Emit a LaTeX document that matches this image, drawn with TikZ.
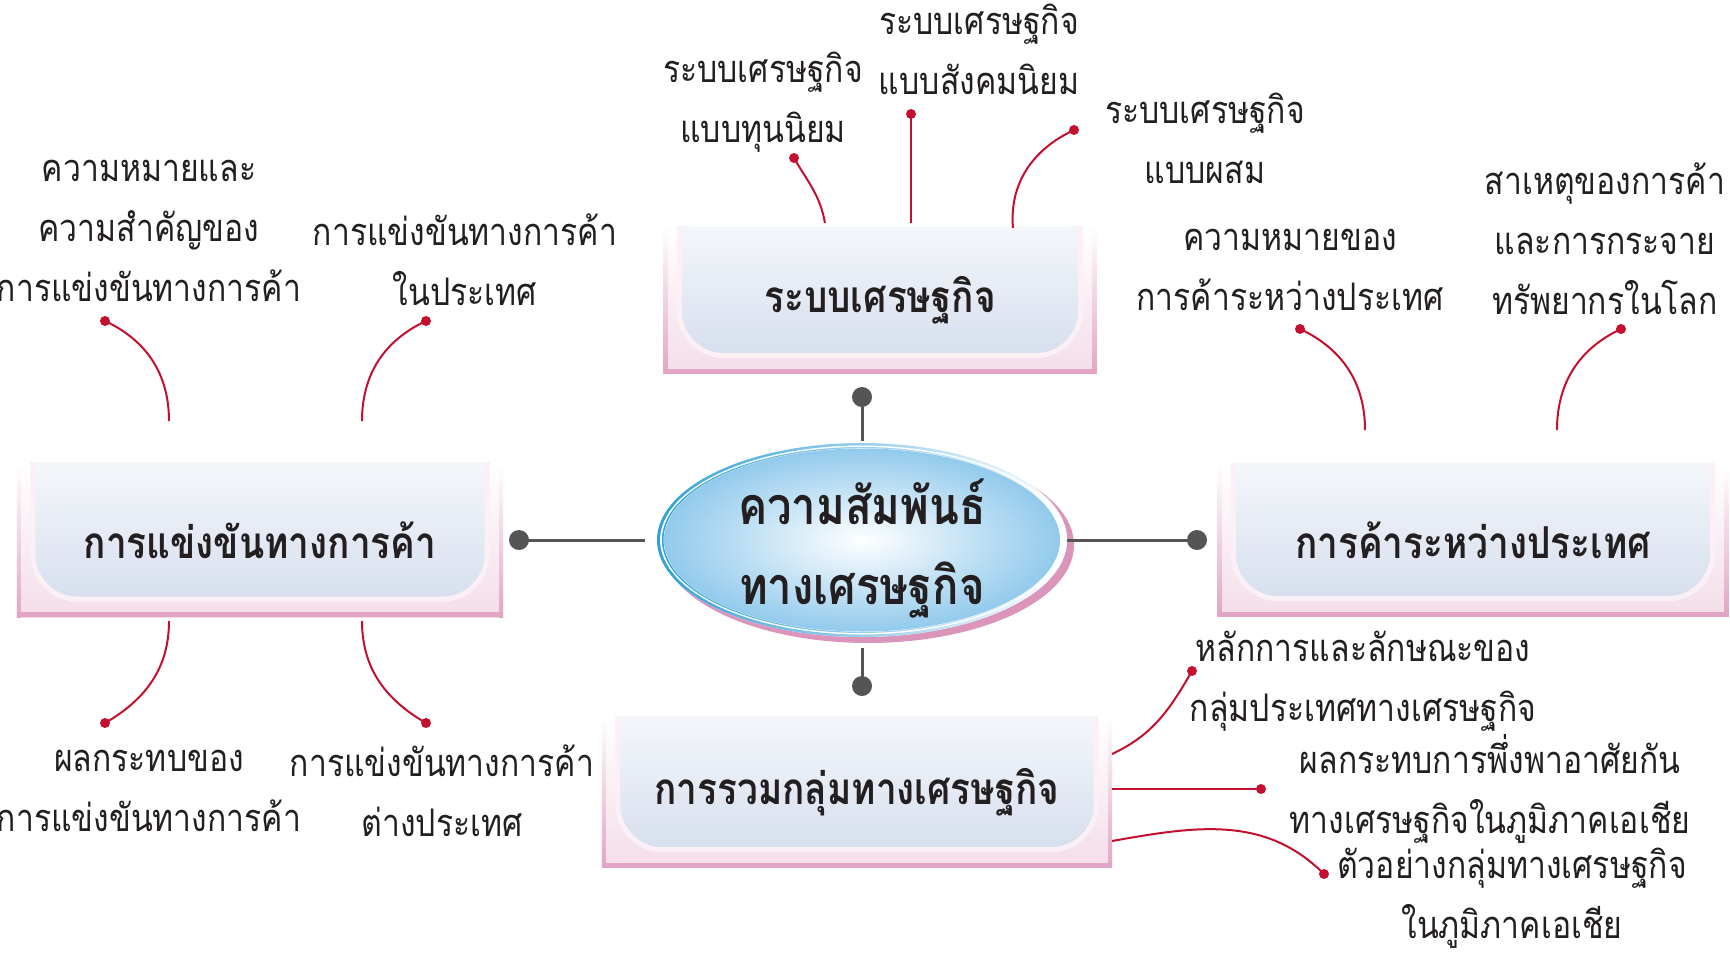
\documentclass[tikz,border=0pt]{standalone}
\usepackage{fontspec}
\newfontfamily\thaifont[Script=Thai, FakeStretch=0.84]{Loma}
\usetikzlibrary{shapes.geometric,backgrounds}

\definecolor{pinkd}{HTML}{E2A5C5}
\definecolor{pinkl}{HTML}{F4DDE9}
\definecolor{boxb}{HTML}{D7DFEE}
\definecolor{boxw}{HTML}{FBF0F5}
\definecolor{redc}{HTML}{C4102E}
\definecolor{greyc}{HTML}{555555}
\definecolor{bluee}{HTML}{33A0DA}
\definecolor{bluef}{HTML}{92CAEC}
\definecolor{pinke}{HTML}{DB95BA}
\definecolor{inkc}{HTML}{231F20}

\tikzset{
  topic/.style={font=\thaifont\bfseries\fontsize{44}{80}\selectfont, text=inkc, inner sep=0pt, align=center},
  leaf/.style={font=\thaifont\fontsize{38}{60}\selectfont, text=inkc, inner sep=0pt, align=center},
  link/.style={draw=redc, line width=2pt},
  hub/.style={draw=greyc, line width=3pt}
}

\begin{document}
\begin{tikzpicture}[x=1pt,y=-1pt]
    \useasboundingbox (0,0) rectangle (1730,953);

    \node[topic, ellipse, font=\thaifont\bfseries\fontsize{52}{80}\selectfont, minimum width=410pt, minimum height=194pt] (ctr) at (862,549) {ความสัมพันธ์\\ทางเศรษฐกิจ};
    \node[topic, minimum width=433pt, minimum height=147pt] (sys) at (880,300) {ระบบเศรษฐกิจ};
    \node[topic, minimum width=486pt, minimum height=154pt] (comp) at (260,540) {การแข่งขันทางการค้า};
    \node[topic, minimum width=511pt, minimum height=153pt] (trade) at (1473,540) {การค้าระหว่างประเทศ};
    \node[topic, minimum width=510pt, minimum height=151pt] (grp) at (857,792) {การรวมกลุ่มทางเศรษฐกิจ};

    \begin{scope}[on background layer]
        \foreach \b in {sys,comp,trade,grp} {
            \shade[top color=white, middle color=white, bottom color=pinkl] (\b.south west) rectangle (\b.north east);
            \shade[top color=white, bottom color=pinkd] (\b.south west) rectangle ([xshift=4pt]\b.north west);
            \shade[top color=white, bottom color=pinkd] ([xshift=-4pt]\b.south east) rectangle (\b.north east);
            \fill[pinkd] (\b.south west) rectangle ([yshift=5pt]\b.south east);
            \begin{scope}
                \clip (\b.south west) rectangle (\b.north east);
                \shadedraw[top color=white, bottom color=boxb, draw=boxw, line width=5pt, rounded corners=45pt]
                    ([shift={(16pt,18pt)}]\b.south west) rectangle ([shift={(-16pt,50pt)}]\b.north east);
            \end{scope}
        }
        \fill[pinke] ([shift={(6pt,4pt)}]ctr.center) ellipse (206pt and 98pt);
        \fill[white] ([yshift=9pt]ctr.center) ellipse (205pt and 97pt);
        \shade[left color=bluee, right color=white, even odd rule]
            ([yshift=9pt]ctr.center) ellipse (205pt and 97pt) ([yshift=9pt]ctr.center) ellipse (202pt and 94.5pt);
        \shade[left color=bluee, right color=white, even odd rule]
            ([yshift=9pt]ctr.center) ellipse (200pt and 93pt) ([yshift=9pt]ctr.center) ellipse (198.5pt and 91.8pt);
        \shade[inner color=white, outer color=bluef] ([yshift=9pt]ctr.center) ellipse (198pt and 91.5pt);
    \end{scope}

    \coordinate (gt) at (862,397);
    \coordinate (gb) at (862,686);
    \coordinate (gl) at (519,540);
    \coordinate (gr) at (1197,540);
    \draw[hub, shorten <=9pt] (ctr.north) -- (gt);
    \draw[hub] (ctr.south) -- (gb);
    \draw[hub] ([xshift=-12pt]ctr.west |- gl) -- (gl);
    \draw[hub] (ctr.east |- gr) -- (gr);
    \foreach \g in {gt,gb,gl,gr} \fill[greyc] (\g) circle (10pt);

    \node[leaf] (s1) at (763,102) {ระบบเศรษฐกิจ\\แบบทุนนิยม};
    \node[leaf] (s2) at (979,49) {ระบบเศรษฐกิจ\\แบบสังคมนิยม};
    \node[leaf] (s3) at (1205,138) {ระบบเศรษฐกิจ\\แบบผสม};
    \node[leaf] (c1) at (149,231) {ความหมายและ\\ความสำคัญของ\\การแข่งขันทางการค้า};
    \node[leaf] (c2) at (465,260) {การแข่งขันทางการค้า\\ในประเทศ};
    \node[leaf] (c3) at (149,791) {ผลกระทบของ\\การแข่งขันทางการค้า};
    \node[leaf] (c4) at (442,791) {การแข่งขันทางการค้า\\ต่างประเทศ};
    \node[leaf] (t1) at (1290,270) {ความหมายของ\\การค้าระหว่างประเทศ};
    \node[leaf] (t2) at (1605,239) {สาเหตุของการค้า\\และการกระจาย\\ทรัพยากรในโลก};
    \node[leaf] (g1) at (1363,681) {หลักการและลักษณะของ\\กลุ่มประเทศทางเศรษฐกิจ};
    \node[leaf] (g2) at (1490,789) {ผลกระทบการพึ่งพาอาศัยกัน\\ทางเศรษฐกิจในภูมิภาคเอเชีย};
    \node[leaf] (g3) at (1512,898) {ตัวอย่างกลุ่มทางเศรษฐกิจ\\ในภูมิภาคเอเชีย};

    \coordinate (s1d) at (794,158);  \coordinate (s1e) at (825,223);
    \coordinate (s2d) at (911,114);  \coordinate (s2e) at (911,223);
    \coordinate (s3d) at (1074,130); \coordinate (s3e) at (1013,228);
    \coordinate (c1d) at (105,321);  \coordinate (c1e) at (169,421);
    \coordinate (c2d) at (426,321);  \coordinate (c2e) at (362,421);
    \coordinate (c3d) at (105,723);  \coordinate (c3e) at (169,621);
    \coordinate (c4d) at (426,723);  \coordinate (c4e) at (362,621);
    \coordinate (t1d) at (1300,329); \coordinate (t1e) at (1365,430);
    \coordinate (t2d) at (1621,329); \coordinate (t2e) at (1557,430);
    \coordinate (g1d) at (1192,671); \coordinate (g1e) at (1112,754);
    \coordinate (g2d) at (1261,789); \coordinate (g2e) at (1112,789);
    \coordinate (g3d) at (1324,874); \coordinate (g3e) at (1112,841);

    \draw[link] (s1d) to[out=-60, in=100] (s1e);
    \draw[link] (s2d) -- (s2e);
    \draw[link] (s3d) to[out=205, in=95] (s3e);
    \draw[link] (c1d) to[out=-25, in=90] (c1e);
    \draw[link] (c2d) to[out=205, in=90] (c2e);
    \draw[link] (c3e) to[out=-90, in=30] (c3d);
    \draw[link] (c4e) to[out=-90, in=150] (c4d);
    \draw[link] (t1d) to[out=-25, in=90] (t1e);
    \draw[link] (t2d) to[out=205, in=90] (t2e);
    \draw[link] (g1e) to[out=25, in=240] (g1d);
    \draw[link] (g2e) -- (g2d);
    \draw[link] (g3e) to[out=10, in=135] (g3d);
    \foreach \d in {s1d,s2d,s3d,c1d,c2d,c3d,c4d,t1d,t2d,g1d,g2d,g3d} \fill[redc] (\d) circle (5pt);
\end{tikzpicture}
\end{document}
